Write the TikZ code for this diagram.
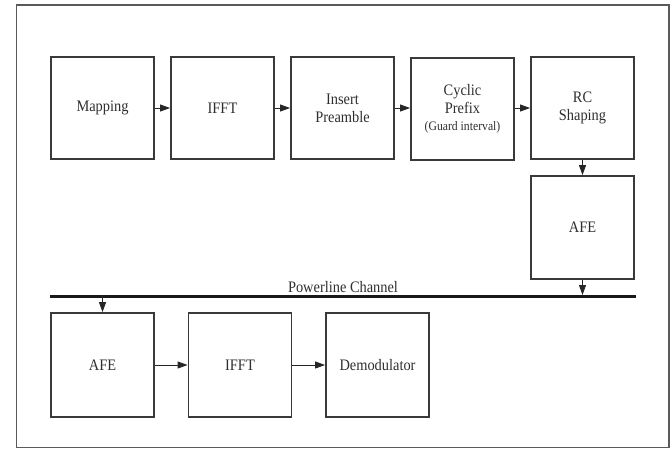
\documentclass[tikz,border=0pt]{standalone}
\usepackage{fontspec}
\setmainfont{Liberation Serif}[FakeStretch=0.9]
\usetikzlibrary{arrows.meta}
\definecolor{boxgray}{HTML}{3A3A3A}
\definecolor{txtgray}{HTML}{2E2E2E}
\definecolor{framegray}{HTML}{5A5A5A}
\tikzset{
  blk/.style={draw=boxgray, line width=1.8pt, rectangle, inner sep=0pt,
    minimum width=103pt, minimum height=102pt, align=center, text=txtgray,
    font=\fontsize{16pt}{18pt}\selectfont},
  arr/.style={draw=black!85, line width=0.9pt, -{Triangle[length=10pt,width=7pt]}},
  chan/.style={draw=black!90, line width=3pt},
  lbl/.style={text=txtgray, font=\fontsize{16pt}{18pt}\selectfont, inner sep=0pt},
}
\begin{document}
\begin{tikzpicture}[x=1pt,y=-1pt]
\useasboundingbox (0,0) rectangle (672,448);
\draw[framegray, line width=1.4pt] (16.5,5) rectangle (669,447.5);
% top row
\node[blk] (map) at (102.5,108) {Mapping};
\node[blk] (ifft1) at (222.5,108) {IFFT};
\node[blk] (ins) at (342.5,108) {Insert\\Preamble};
\node[blk] (cp) at (462.5,109) {Cyclic\\Prefix\\[-1pt]{\fontsize{13pt}{15pt}\selectfont (Guard interval)}};
\node[blk] (rc) at (582.5,108) {RC\\Shaping};
\node[blk, minimum height=103pt] (afe1) at (582.5,227.5) {AFE};
% channel
\coordinate (chL) at (50,296.5);
\coordinate (chR) at (636,296.5);
\coordinate (chTop) at (0,295);
\draw[chan] (chL) -- (chR);
\node[lbl, anchor=base] (chlbl) at (343,292) {Powerline Channel};
% bottom row
\node[blk, minimum height=104pt] (afe2) at (102.5,365) {AFE};
\node[blk, minimum height=104pt] (ifft2) at (240,365) {IFFT};
\node[blk, minimum height=104pt] (dem) at (377.5,365) {Demodulator};
% connectors
\draw[arr] (map) -- (ifft1);
\draw[arr] (ifft1) -- (ins);
\draw[arr] (ins) -- (cp.west |- ins);
\draw[arr] (cp.east |- rc) -- (rc);
\draw[arr] (rc) -- (afe1);
\draw[arr] (afe1) -- (afe1.south |- chTop);
\draw[arr] (afe2.north |- chTop) -- (afe2);
\draw[arr] (afe2) -- (ifft2);
\draw[arr] (ifft2) -- (dem);
\end{tikzpicture}
\end{document}
